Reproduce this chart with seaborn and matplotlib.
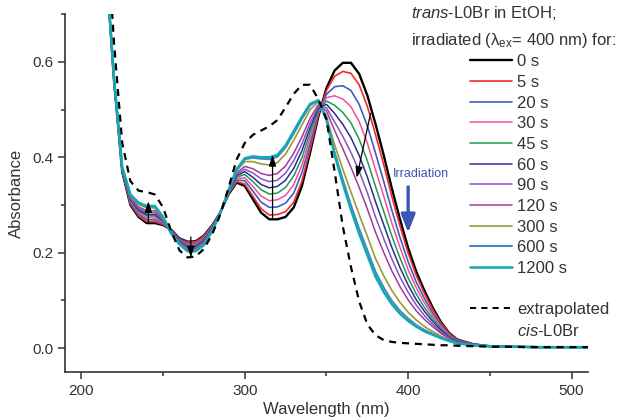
import matplotlib
matplotlib.use("Agg")
import matplotlib.pyplot as plt
from matplotlib.lines import Line2D
from matplotlib.ticker import MultipleLocator
import pandas as pd
import seaborn as sns

# wavelength grid (nm) and absorbance
wavelength = [217, 220, 225, 230, 235, 240, 245, 250, 255, 260, 265, 270, 275, 280, 285,
              290, 295, 300, 305, 310, 315, 320, 325, 330, 335, 340, 345, 350, 355, 360,
              365, 370, 375, 380, 385, 390, 395, 400, 405, 410, 415, 420, 425, 430, 440,
              450, 460, 480, 510]

abs_0s = [0.710, 0.560, 0.370, 0.300, 0.275, 0.262, 0.262, 0.258, 0.248, 0.230, 0.223, 0.224, 0.236, 0.257, 0.284,
          0.322, 0.347, 0.340, 0.312, 0.284, 0.270, 0.270, 0.275, 0.295, 0.340, 0.410, 0.485, 0.545, 0.582, 0.598,
          0.598, 0.575, 0.530, 0.470, 0.405, 0.335, 0.270, 0.210, 0.160, 0.120, 0.085, 0.055, 0.032, 0.018, 0.008,
          0.004, 0.003, 0.002, 0.002]
abs_5s = [0.710, 0.560, 0.371, 0.302, 0.277, 0.265, 0.265, 0.259, 0.247, 0.229, 0.222, 0.223, 0.235, 0.256, 0.284,
          0.323, 0.349, 0.344, 0.318, 0.292, 0.279, 0.280, 0.286, 0.306, 0.350, 0.417, 0.488, 0.540, 0.570, 0.580,
          0.576, 0.552, 0.507, 0.448, 0.385, 0.318, 0.256, 0.199, 0.152, 0.114, 0.081, 0.053, 0.031, 0.017, 0.008,
          0.004, 0.003, 0.002, 0.002]
abs_20s = [0.710, 0.561, 0.372, 0.304, 0.281, 0.269, 0.269, 0.261, 0.247, 0.228, 0.219, 0.220, 0.232, 0.255, 0.284,
           0.324, 0.352, 0.351, 0.329, 0.306, 0.295, 0.296, 0.304, 0.325, 0.368, 0.429, 0.492, 0.532, 0.548, 0.550,
           0.540, 0.511, 0.466, 0.409, 0.350, 0.289, 0.232, 0.181, 0.138, 0.104, 0.074, 0.049, 0.029, 0.017, 0.008,
           0.004, 0.003, 0.002, 0.002]
abs_30s = [0.711, 0.562, 0.373, 0.307, 0.284, 0.273, 0.273, 0.263, 0.246, 0.226, 0.217, 0.218, 0.230, 0.253, 0.284,
           0.324, 0.355, 0.357, 0.339, 0.319, 0.309, 0.311, 0.320, 0.343, 0.384, 0.441, 0.496, 0.525, 0.529, 0.522,
           0.506, 0.475, 0.430, 0.374, 0.319, 0.262, 0.211, 0.164, 0.126, 0.095, 0.068, 0.045, 0.027, 0.016, 0.007,
           0.004, 0.003, 0.002, 0.002]
abs_45s = [0.711, 0.562, 0.374, 0.309, 0.287, 0.277, 0.277, 0.265, 0.245, 0.225, 0.215, 0.215, 0.228, 0.252, 0.284,
           0.325, 0.358, 0.364, 0.349, 0.332, 0.323, 0.325, 0.337, 0.361, 0.399, 0.452, 0.499, 0.518, 0.509, 0.494,
           0.472, 0.438, 0.393, 0.339, 0.287, 0.235, 0.189, 0.147, 0.113, 0.085, 0.062, 0.041, 0.025, 0.015, 0.007,
           0.004, 0.003, 0.002, 0.002]
abs_60s = [0.711, 0.563, 0.375, 0.311, 0.290, 0.280, 0.280, 0.267, 0.244, 0.224, 0.213, 0.213, 0.226, 0.251, 0.283,
           0.326, 0.361, 0.370, 0.358, 0.343, 0.336, 0.339, 0.352, 0.377, 0.414, 0.462, 0.503, 0.511, 0.492, 0.469,
           0.441, 0.404, 0.359, 0.307, 0.259, 0.211, 0.169, 0.132, 0.101, 0.077, 0.056, 0.038, 0.023, 0.014, 0.007,
           0.004, 0.003, 0.002, 0.002]
abs_90s = [0.711, 0.563, 0.376, 0.313, 0.293, 0.284, 0.284, 0.268, 0.243, 0.223, 0.211, 0.211, 0.224, 0.250, 0.283,
           0.327, 0.364, 0.375, 0.367, 0.355, 0.349, 0.352, 0.367, 0.393, 0.428, 0.472, 0.506, 0.504, 0.474, 0.444,
           0.410, 0.371, 0.326, 0.275, 0.230, 0.187, 0.149, 0.117, 0.090, 0.068, 0.050, 0.034, 0.022, 0.013, 0.007,
           0.004, 0.003, 0.002, 0.002]
abs_120s = [0.711, 0.564, 0.377, 0.316, 0.296, 0.288, 0.288, 0.270, 0.242, 0.221, 0.209, 0.209, 0.222, 0.248, 0.283,
            0.328, 0.367, 0.381, 0.376, 0.366, 0.362, 0.366, 0.382, 0.409, 0.443, 0.482, 0.510, 0.497, 0.456, 0.418,
            0.379, 0.337, 0.292, 0.243, 0.201, 0.162, 0.129, 0.101, 0.078, 0.060, 0.045, 0.031, 0.020, 0.012, 0.007,
            0.004, 0.003, 0.002, 0.002]
abs_300s = [0.712, 0.564, 0.379, 0.319, 0.301, 0.294, 0.294, 0.273, 0.241, 0.219, 0.205, 0.206, 0.218, 0.246, 0.283,
            0.329, 0.372, 0.391, 0.391, 0.386, 0.384, 0.389, 0.407, 0.436, 0.468, 0.500, 0.516, 0.486, 0.426, 0.375,
            0.327, 0.280, 0.235, 0.188, 0.152, 0.121, 0.096, 0.075, 0.059, 0.045, 0.035, 0.025, 0.017, 0.011, 0.006,
            0.004, 0.003, 0.002, 0.002]
abs_600s = [0.712, 0.565, 0.380, 0.321, 0.304, 0.297, 0.297, 0.274, 0.240, 0.218, 0.204, 0.204, 0.217, 0.245, 0.283,
            0.330, 0.374, 0.396, 0.399, 0.397, 0.396, 0.401, 0.421, 0.450, 0.481, 0.509, 0.519, 0.480, 0.410, 0.353,
            0.299, 0.250, 0.205, 0.160, 0.127, 0.099, 0.078, 0.062, 0.048, 0.038, 0.030, 0.022, 0.016, 0.010, 0.006,
            0.004, 0.003, 0.002, 0.002]
abs_1200s = [0.712, 0.565, 0.380, 0.322, 0.305, 0.298, 0.298, 0.275, 0.240, 0.218, 0.203, 0.203, 0.216, 0.245, 0.283,
             0.330, 0.375, 0.398, 0.402, 0.400, 0.400, 0.405, 0.425, 0.455, 0.485, 0.512, 0.520, 0.478, 0.405, 0.345,
             0.290, 0.240, 0.195, 0.150, 0.118, 0.092, 0.072, 0.057, 0.045, 0.035, 0.028, 0.021, 0.015, 0.010, 0.006,
             0.004, 0.003, 0.002, 0.002]
abs_cis = [0.800, 0.640, 0.430, 0.350, 0.330, 0.327, 0.322, 0.295, 0.245, 0.205, 0.190, 0.192, 0.208, 0.238, 0.280,
           0.335, 0.395, 0.430, 0.447, 0.456, 0.465, 0.478, 0.505, 0.533, 0.552, 0.552, 0.522, 0.480, 0.370, 0.255,
           0.170, 0.098, 0.050, 0.027, 0.017, 0.013, 0.011, 0.010, 0.009, 0.008, 0.007, 0.006, 0.006, 0.005, 0.004,
           0.003, 0.003, 0.002, 0.002]

times = ["0 s", "5 s", "20 s", "30 s", "45 s", "60 s", "90 s", "120 s", "300 s", "600 s", "1200 s"]
spectra = [abs_0s, abs_5s, abs_20s, abs_30s, abs_45s, abs_60s, abs_90s, abs_120s, abs_300s, abs_600s, abs_1200s]
colors = ["#000000", "#F42A2A", "#3F5EBE", "#EE4FA6", "#1E9A4E", "#2B2F8C", "#8454C2",
          "#A43A98", "#9C9A34", "#4C84C8", "#12A9B2"]
widths = [1.7, 1.2, 1.2, 1.1, 1.1, 1.1, 1.1, 1.1, 1.2, 1.5, 1.8]

sns.set_theme(style="ticks")
plt.rcParams["font.family"] = ["Liberation Sans", "DejaVu Sans"]
plt.rcParams["mathtext.fontset"] = "custom"
plt.rcParams["mathtext.rm"] = "Liberation Sans"
plt.rcParams["mathtext.it"] = "Liberation Sans:italic"

fig = plt.figure(figsize=(6.21, 4.17), dpi=100)
ax = fig.add_axes([0.1047, 0.108, 0.842, 0.858])

for label, vals, c, lw in zip(times, spectra, colors, widths):
    df = pd.DataFrame({"wavelength": wavelength, "absorbance": vals})
    sns.lineplot(data=df, x="wavelength", y="absorbance", color=c, lw=lw, ax=ax)

cis_df = pd.DataFrame({"wavelength": wavelength, "absorbance": abs_cis})
sns.lineplot(data=cis_df, x="wavelength", y="absorbance", color="black", lw=1.6,
             dashes=False, ax=ax)
ax.lines[-1].set_dashes((3.2, 2.6))

ax.set_xlim(190, 510)
ax.set_ylim(-0.05, 0.70)
ax.xaxis.set_major_locator(MultipleLocator(100))
ax.xaxis.set_minor_locator(MultipleLocator(50))
ax.yaxis.set_major_locator(MultipleLocator(0.2))
ax.yaxis.set_minor_locator(MultipleLocator(0.1))
ax.tick_params(which="both", direction="out", colors="#333333", width=1.1, labelsize=11)
ax.tick_params(which="major", length=5)
ax.tick_params(which="minor", length=3)
sns.despine(ax=ax)
for s in ["left", "bottom"]:
    ax.spines[s].set_linewidth(1.2)
    ax.spines[s].set_color("#333333")
ax.set_xlabel("Wavelength (nm)", fontsize=12, color="#333333", labelpad=3)
ax.set_ylabel("Absorbance", fontsize=12, color="#333333", labelpad=6)

# arrows showing the direction of change
arrow_kw = dict(arrowstyle="-|>,head_length=0.55,head_width=0.18", color="black", lw=0.9,
                shrinkA=0, shrinkB=0)
ax.annotate("", xy=(241, 0.308), xytext=(241, 0.262), arrowprops=arrow_kw)
ax.annotate("", xy=(267, 0.190), xytext=(267, 0.233), arrowprops=arrow_kw)
ax.annotate("", xy=(317, 0.405), xytext=(317, 0.270), arrowprops=arrow_kw)
ax.annotate("", xy=(368.5, 0.357), xytext=(377, 0.492), arrowprops=arrow_kw)

ax.text(408, 0.364, "Irradiation", color="#3D55B4", fontsize=9, ha="center", va="center")
ax.annotate("", xy=(400, 0.242), xytext=(400, 0.338),
            arrowprops=dict(arrowstyle="-|>,head_length=0.9,head_width=0.35",
                            color="#3D55B4", lw=2.4, shrinkA=0, shrinkB=0))

# legend
handles = [Line2D([], [], color=c, lw=lw) for c, lw in zip(colors, widths)]
handles += [Line2D([], [], color="none"),
            Line2D([], [], color="black", lw=1.4, dashes=(3.2, 2.6)),
            Line2D([], [], color="none")]
labels = times + ["", "extrapolated", r"$\mathit{cis}$-L0Br"]
fig.legend(handles, labels, loc="upper left", bbox_to_anchor=(0.757, 0.870), frameon=False,
           fontsize=12, handlelength=2.5, handletextpad=0.3, labelspacing=0.34,
           borderpad=0, borderaxespad=0, labelcolor="#333333")

fig.text(0.662, 0.969, r"$\mathit{trans}$-L0Br in EtOH;", fontsize=12, va="center", color="#333333")
fig.text(0.662, 0.904, r"irradiated ($\mathrm{\lambda_{ex}}$= 400 nm) for:", fontsize=12,
         va="center", color="#333333")

fig.savefig("out.png", dpi=100)
